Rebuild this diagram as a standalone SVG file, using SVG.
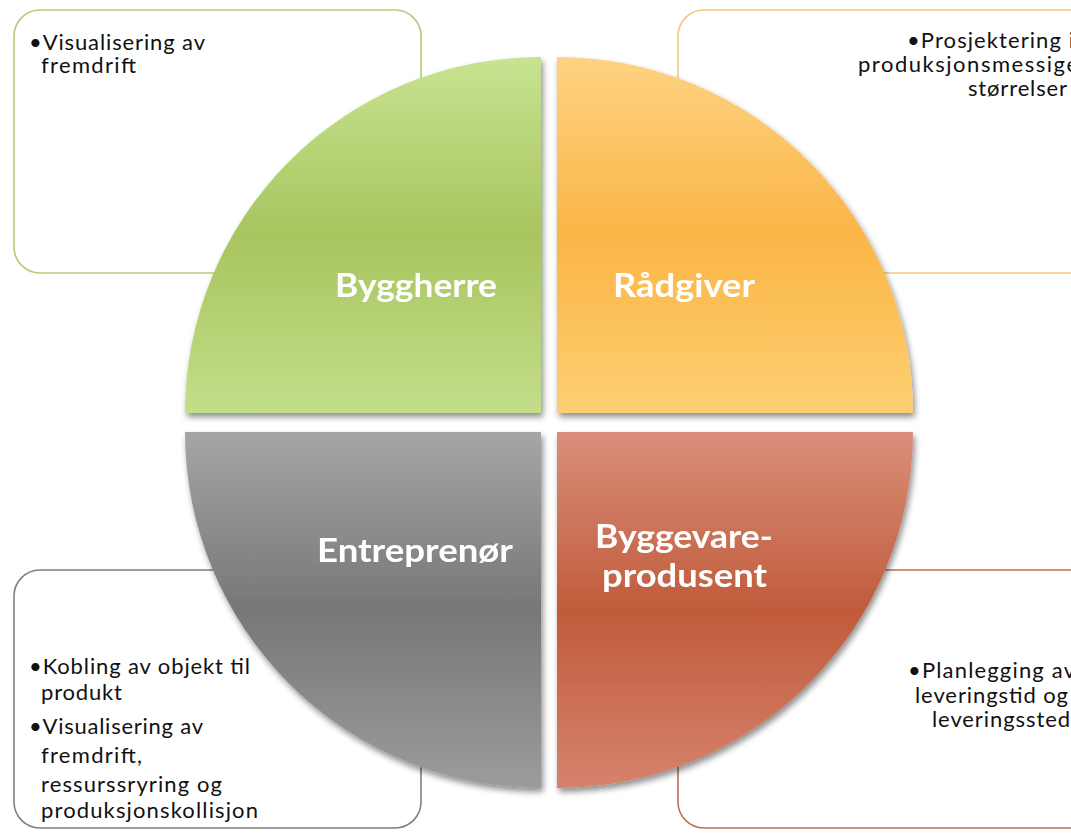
<svg xmlns="http://www.w3.org/2000/svg" width="1071" height="833" viewBox="0 0 1071 833">
<defs>
<style>
.box{fill:#ffffff;stroke-width:1.6}
.txt{font-family:Lato,"Open Sans","Liberation Sans",sans-serif;font-size:22px;fill:#111111}
.lbl{font-family:Lato,"Open Sans","Liberation Sans",sans-serif;font-size:32px;font-weight:bold;fill:#ffffff}
</style>
<linearGradient id="gGreen" x1="0" y1="0" x2="0" y2="1">
<stop offset="0" stop-color="#c8e391"/><stop offset="0.5" stop-color="#a8c55f"/><stop offset="1" stop-color="#c3de89"/>
</linearGradient>
<linearGradient id="gOrange" x1="0" y1="0" x2="0" y2="1">
<stop offset="0" stop-color="#fdd382"/><stop offset="0.5" stop-color="#fbb546"/><stop offset="1" stop-color="#fdcf72"/>
</linearGradient>
<linearGradient id="gGray" x1="0" y1="0" x2="0" y2="1">
<stop offset="0" stop-color="#a6a6a6"/><stop offset="0.5" stop-color="#777777"/><stop offset="1" stop-color="#9c9c9c"/>
</linearGradient>
<linearGradient id="gRed" x1="0" y1="0" x2="0" y2="1">
<stop offset="0" stop-color="#da8f7b"/><stop offset="0.5" stop-color="#c05b3b"/><stop offset="1" stop-color="#d6836d"/>
</linearGradient>
<filter id="shadow" x="-10%" y="-10%" width="125%" height="125%">
<feGaussianBlur in="SourceAlpha" stdDeviation="3"/>
<feOffset dx="2" dy="4" result="o"/>
<feComponentTransfer><feFuncA type="linear" slope="0.45"/></feComponentTransfer>
<feMerge><feMergeNode/><feMergeNode in="SourceGraphic"/></feMerge>
</filter>
</defs>
<rect width="1071" height="833" fill="#ffffff"/>
<g id="connectors"></g>
<g id="box-byggherre">
<rect class="box" x="14" y="10" width="407" height="263" rx="26" stroke="#b0cc7c"/>
<text class="txt" x="29" y="50" textLength="176" lengthAdjust="spacing">•Visualisering av</text>
<text class="txt" x="41" y="73" textLength="95" lengthAdjust="spacing">fremdrift</text>
</g>
<g id="box-radgiver">
<rect class="box" x="678" y="10" width="420" height="263" rx="26" stroke="#f6c67f"/>
<text class="txt" x="907" y="48" textLength="167" lengthAdjust="spacing">•Prosjektering i</text>
<text class="txt" x="858" y="72" textLength="220" lengthAdjust="spacing">produksjonsmessige</text>
<text class="txt" x="968" y="96" textLength="99" lengthAdjust="spacing">størrelser</text>
</g>
<g id="box-entreprenor">
<rect class="box" x="14" y="570" width="407" height="258" rx="26" stroke="#7f7f7f"/>
<text class="txt" x="29" y="674" textLength="221" lengthAdjust="spacing">•Kobling av objekt til</text>
<text class="txt" x="41" y="700" textLength="81" lengthAdjust="spacing">produkt</text>
<text class="txt" x="29" y="734" textLength="174" lengthAdjust="spacing">•Visualisering av</text>
<text class="txt" x="41" y="763" textLength="101" lengthAdjust="spacing">fremdrift,</text>
<text class="txt" x="41" y="792" textLength="181" lengthAdjust="spacing">ressurssryring og</text>
<text class="txt" x="41" y="818" textLength="217" lengthAdjust="spacing">produksjonskollisjon</text>
</g>
<g id="box-byggevareprodusent">
<rect class="box" x="678" y="570" width="420" height="258" rx="26" stroke="#c0714f"/>
<text class="txt" x="908" y="678" textLength="167" lengthAdjust="spacing">•Planlegging av</text>
<text class="txt" x="915" y="703" textLength="153" lengthAdjust="spacing">leveringstid og</text>
<text class="txt" x="932" y="727" textLength="138" lengthAdjust="spacing">leveringssted</text>
</g>
<g id="node-byggherre" filter="url(#shadow)">
<path d="M541 413 L185 413 A356 356 0 0 1 541 57 Z" fill="url(#gGreen)"/>
<text class="lbl" x="335" y="297" textLength="162" lengthAdjust="spacingAndGlyphs">Byggherre</text>
</g>
<g id="node-radgiver" filter="url(#shadow)">
<path d="M557 413 L557 57 A356 356 0 0 1 913 413 Z" fill="url(#gOrange)"/>
<text class="lbl" x="613" y="297" textLength="142" lengthAdjust="spacingAndGlyphs">Rådgiver</text>
</g>
<g id="node-entreprenor" filter="url(#shadow)">
<path d="M541 432 L541 788 A356 356 0 0 1 185 432 Z" fill="url(#gGray)"/>
<text class="lbl" x="317" y="562" textLength="196" lengthAdjust="spacingAndGlyphs">Entreprenør</text>
</g>
<g id="node-byggevareprodusent" filter="url(#shadow)">
<path d="M557 432 L913 432 A356 356 0 0 1 557 788 Z" fill="url(#gRed)"/>
<text class="lbl" x="595" y="548" textLength="178" lengthAdjust="spacingAndGlyphs">Byggevare-</text>
<text class="lbl" x="602" y="587" textLength="165" lengthAdjust="spacingAndGlyphs">produsent</text>
</g>
</svg>
